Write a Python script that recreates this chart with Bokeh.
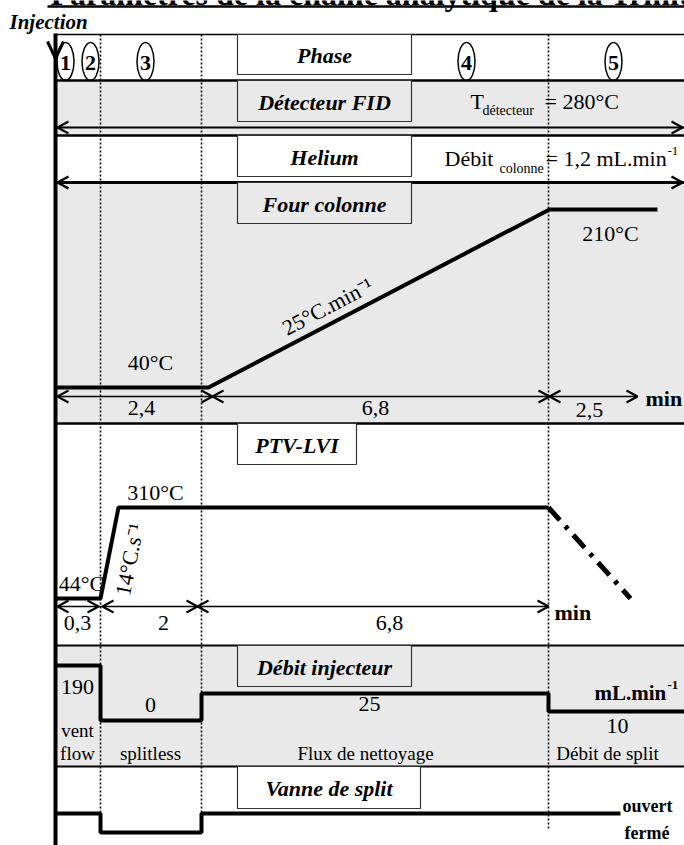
import math
from bokeh.plotting import figure
from bokeh.models import Range1d
from bokeh.embed import file_html
from bokeh.resources import INLINE
from bokeh.core.properties import value

# ---------------- data ----------------
title = "Paramètres de la chaîne analytique de la Trinité"
row_titles = ["Phase", "Détecteur FID", "Helium", "Four colonne",
              "PTV-LVI", "Débit injecteur", "Vanne de split"]
phase_numbers = ["1", "2", "3", "4", "5"]
detector_temp = 280
column_flow = "1,2"
oven_temps = [40, 40, 210, 210]          # °C
oven_rate = 25                            # °C/min
oven_durations = ["2,4", "6,8", "2,5"]    # min
ptv_temps = [44, 44, 310, 310, 44]        # °C (last: cooling)
ptv_rate = 14                             # °C/s
ptv_durations = ["0,3", "2", "6,8"]       # min
injector_flows = [190, 0, 25, 10]         # mL/min
flow_modes = ["vent\nflow", "splitless", "Flux de nettoyage", "Débit de split"]
valve_states = [1, 0, 1]                  # 1 = ouvert, 0 = fermé
valve_labels = ["ouvert", "fermé"]

# ---------------- layout (page pixels) ----------------
FONT = value("Liberation Serif")
AX = 55                                  # injection axis
XB = [55, 100, 201, 548, 700]            # phase boundaries
ROWS = [34, 80, 135, 182, 423, 645, 766, 845]
GRAY = "#e9e9e9"

p = figure(width=684, height=845, x_range=Range1d(0, 684), y_range=Range1d(845, 0),
           output_backend="svg", toolbar_location=None, min_border=0,
           x_axis_location=None, y_axis_location=None)
p.grid.visible = False
p.outline_line_color = None
p.background_fill_color = "white"
p.border_fill_color = "white"


def txt(x, y, s, size, style="normal", align="center", angle=0.0, baseline="middle"):
    p.text(x=[x], y=[y], text=[s], text_font=FONT, text_font_size=f"{size}px",
           text_font_style=style, text_align=align, text_baseline=baseline,
           angle=angle, text_color="black", text_line_height=1.15)


def chev(x, y, d, L=11, h=6, w=2):
    # d = +1 -> '>' tip at x ; d = -1 -> '<' tip at x
    p.line([x - d * L, x, x - d * L], [y - h, y, y + h], line_color="black", line_width=w)


# shaded rows
for top, bot in [(ROWS[1], ROWS[2]), (ROWS[3], ROWS[4]), (ROWS[5], ROWS[6])]:
    p.quad(left=AX, right=700, top=top, bottom=bot, fill_color=GRAY, line_color=None)

# dotted phase separators
for xb, yend in zip(XB[1:4], [832, 832, 828]):
    p.line([xb, xb], [ROWS[0], yend], line_color="black", line_width=1.6, line_dash="2 2")

# row borders
for yy, lw in zip(ROWS[:7], [1.3, 2.5, 2.5, 3, 2.5, 2, 2]):
    p.line([AX, 700], [yy, yy], line_color="black", line_width=lw)

# detector / helium double arrows
p.line([AX, 700], [127, 127], line_color="black", line_width=2)
chev(57, 127, -1); chev(682, 127, +1)
chev(57, 182, -1, w=2.5); chev(682, 182, +1, w=2.5)

# label boxes
box_geo = [(237, 411, 34, 74, "white"), (237, 411, 80, 121, GRAY), (237, 411, 135, 176, "white"),
           (237, 411, 182, 223, GRAY), (237, 356, 423, 464, "white"), (237, 411, 645, 686, GRAY),
           (237, 420, 766, 808, "white")]
for (l, r, t, b, fc), name in zip(box_geo, row_titles):
    p.quad(left=l, right=r, top=t, bottom=b, fill_color=fc, line_color="#333333", line_width=1.2)
    txt((l + r) / 2, (t + b) / 2 + 1, name, 22, "bold italic")

# phase numbers in ellipses
for xc, n in zip([65, 90, 145, 466, 613], phase_numbers):
    p.ellipse(x=[xc], y=[61], width=17, height=38, fill_color=None, line_color="black", line_width=1.5)
    txt(xc, 62, n, 22, "bold")

# detector text
txt(470, 101, "T", 22, align="left")
txt(482, 110, "détecteur", 14, align="left")
txt(544, 101, f"= {detector_temp}°C", 22, align="left")
# helium text
txt(444, 158, "Débit", 22, align="left")
txt(499, 168, "colonne", 14, align="left")
txt(545, 158, f"= {column_flow} mL.min", 22, align="left")
txt(667, 150, "-1", 13, align="left")

# ---- oven profile ----
oy_lo, oy_hi = 387, 209
tmin, tmax = min(oven_temps), max(oven_temps)
oven_y = [oy_lo + (t - tmin) * (oy_hi - oy_lo) / (tmax - tmin) for t in oven_temps]
oven_x = [AX, 208, 549, 657]
p.line(oven_x, oven_y, line_color="black", line_width=4)
txt(150, 362, f"{oven_temps[0]}°C", 22)
txt(610, 233, f"{oven_temps[-1]}°C", 22)
ang = math.atan2(oven_y[1] - oven_y[2], oven_x[2] - oven_x[1])
txt(327, 306, f"{oven_rate}°C.min⁻¹", 22, angle=ang)
# oven dimension line
p.line([57, 637], [396, 396], line_color="black", line_width=1.6)
chev(57, 396, -1); chev(212, 396, +1); chev(212, 396, -1)
chev(549, 396, +1); chev(549, 396, -1); chev(637, 396, +1)
for xc, yc, s in zip([141, 375, 589], [407, 407, 409], oven_durations):
    txt(xc, yc, s, 22)
txt(645, 398, "min", 22, "bold", align="left")

# ---- PTV profile ----
py_lo, py_hi = 598, 507
pmin, pmax = min(ptv_temps), max(ptv_temps)
ptv_y = [py_lo + (t - pmin) * (py_hi - py_lo) / (pmax - pmin) for t in ptv_temps]
ptv_x = [AX, 100, 118, 548, 630]
p.line(ptv_x[:4], ptv_y[:4], line_color="black", line_width=4)
p.line(ptv_x[3:], ptv_y[3:], line_color="black", line_width=5, line_dash="17 8 4 8")
txt(81, 583, f"{ptv_temps[0]}°C", 22)
txt(155, 492, f"{ptv_temps[2]}°C", 22)
ang2 = math.atan2(ptv_y[1] - ptv_y[2], ptv_x[2] - ptv_x[1])
txt(129, 559, f"{ptv_rate}°C.s⁻¹", 22, angle=ang2)
p.line([57, 548], [606, 606], line_color="black", line_width=1.6)
chev(57, 606, -1); chev(98, 606, +1); chev(102, 606, -1)
chev(197, 606, +1); chev(197, 606, -1); chev(548, 606, +1)
for xc, s in zip([77, 163, 389], ptv_durations):
    txt(xc, 622, s, 22)
txt(554, 612, "min", 22, "bold", align="left")

# ---- injector flow ----
flow_level_y = [665, 720, 693, 711]      # schematic levels for each flow step
fx, fy = [], []
for i, lv in enumerate(flow_level_y):
    fx += [XB[i], XB[i + 1] if i < 3 else 684]
    fy += [lv, lv]
p.line(fx, fy, line_color="black", line_width=4)
for xc, yc, v in zip([77, 150, 369, 617], [686, 704, 703, 725], injector_flows):
    txt(xc, yc, str(v), 22)
txt(594, 692, "mL.min", 21, "bold", align="left")
txt(667, 684, "-1", 13, "bold", align="left")
for xc, s in zip([77, 150, 365, 607], flow_modes):
    if "\n" in s:
        a, b = s.split("\n")
        txt(xc, 730, a, 19)
        txt(xc, 753, b, 19)
    else:
        txt(xc, 753, s, 19)

# ---- split valve ----
valve_y = {1: 813, 0: 832}
vx_edges = [AX, 100, 201, 620]
vx, vy = [], []
for i, st in enumerate(valve_states):
    vx += [vx_edges[i], vx_edges[i + 1]]
    vy += [valve_y[st], valve_y[st]]
p.line(vx, vy, line_color="black", line_width=4)
txt(622, 805, valve_labels[0], 18, "bold", align="left")
txt(624, 832, valve_labels[1], 18, "bold", align="left")

# injection axis + arrow
p.line([AX, AX], [33, 845], line_color="black", line_width=4)
p.line([47, AX, 63], [41, 58, 41], line_color="black", line_width=3)
txt(9, 21, "Injection", 21, "bold italic", align="left")

# title (cut by the top edge, as in the reference)
txt(50, -7, title, 32, "bold", align="left")
p.line([47, 700], [6, 6], line_color="black", line_width=2.5)

open("out.html", "w").write(file_html(p, INLINE))
